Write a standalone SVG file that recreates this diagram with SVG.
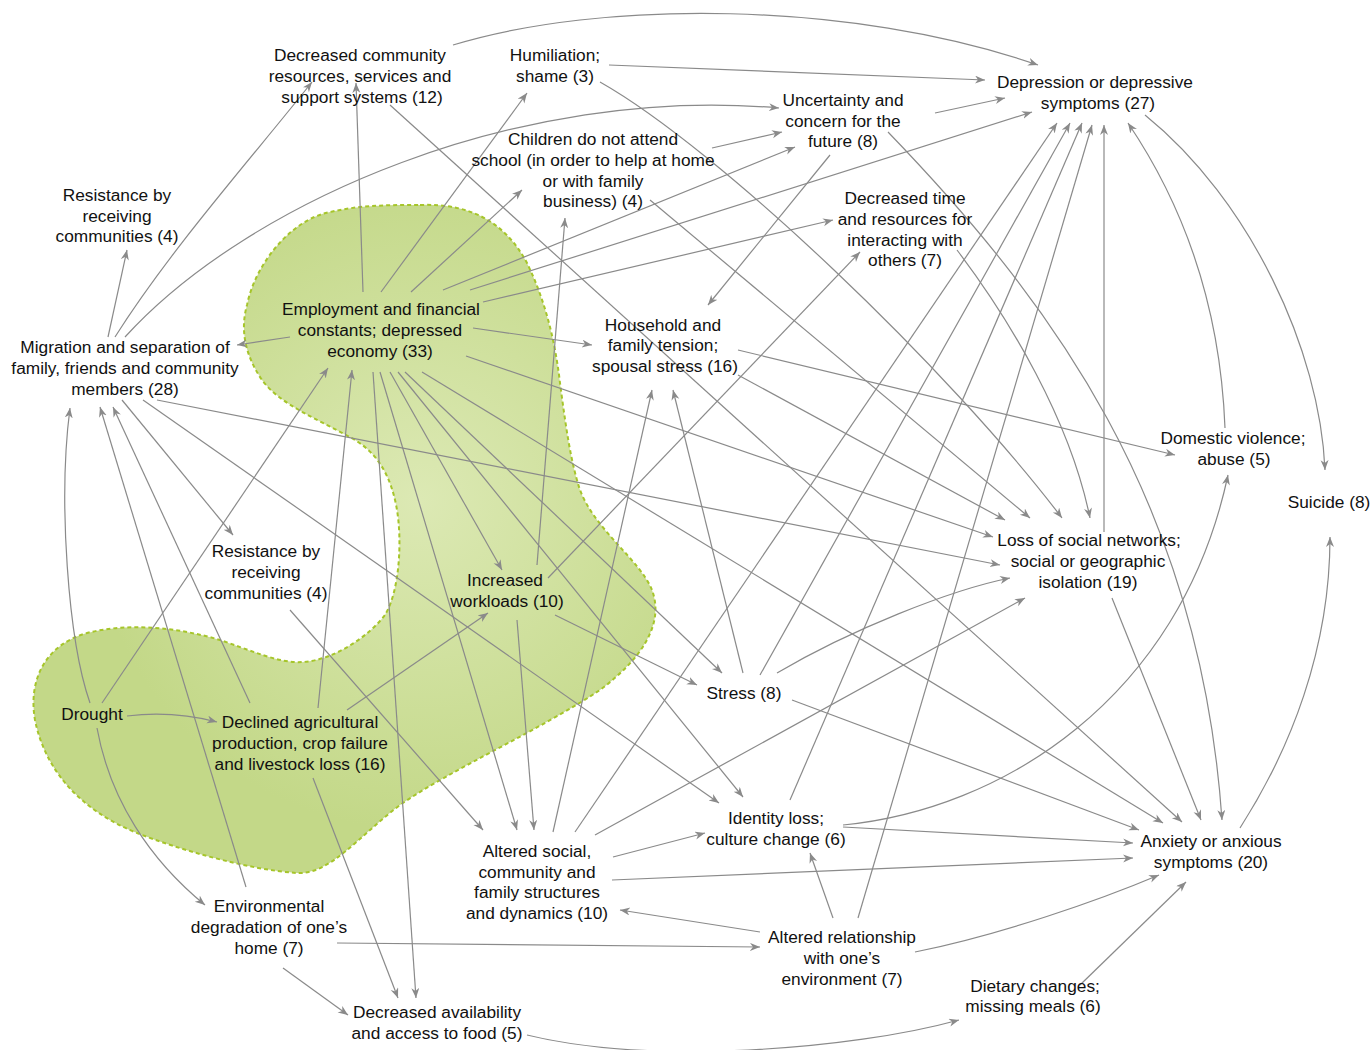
<svg xmlns="http://www.w3.org/2000/svg" width="1372" height="1050" viewBox="0 0 1372 1050">
<style>
text{font-family:"Liberation Sans",Arial,Helvetica,sans-serif;font-size:17.3px;fill:#111;text-anchor:middle}
.e path{fill:none;stroke:#8a8a8a;stroke-width:1.2;marker-end:url(#ah)}
</style>
<defs>
<marker id="ah" markerUnits="userSpaceOnUse" markerWidth="12" markerHeight="10" refX="10" refY="4" orient="auto"><path d="M0,0 L10,4 L0,8 L3,4 Z" fill="#8a8a8a"/></marker>
<radialGradient id="bg" gradientUnits="userSpaceOnUse" cx="420" cy="500" r="330"><stop offset="0" stop-color="#dce9b4"/><stop offset="1" stop-color="#c3d888"/></radialGradient>
</defs>
<rect width="1372" height="1050" fill="#fff"/>
<path id="blob" d="M420,205 C470,203 505,222 527,263 C545,300 555,340 560,383 C565,420 570,460 580,490 C595,530 640,560 652,590 C665,625 640,660 600,690 C540,730 450,770 400,805 C360,835 330,875 297,873 C250,870 180,850 137,833 C80,810 45,770 35,720 C28,680 45,645 87,633 C130,622 180,628 220,640 C250,650 280,664 303,662 C335,660 370,635 385,615 C400,590 402,540 397,510 C392,480 380,455 355,440 C320,420 280,405 262,380 C245,355 240,330 247,305 C255,265 290,220 330,212 C360,205 390,205 420,205 Z" fill="url(#bg)" stroke="#a6c52a" stroke-width="2" stroke-dasharray="4,3"/>
<g id="connectors" class="e">
<path d="M363,292 L356,83"/>
<path d="M381,292 L527,93"/>
<path d="M411,292 L522,190"/>
<path d="M443,290 L795,147"/>
<path d="M470,290 L1032,112"/>
<path d="M483,302 L833,220"/>
<path d="M473,328 L592,345"/>
<path d="M290,337 L237,345"/>
<path d="M466,356 L993,537"/>
<path d="M373,372 L416,998"/>
<path d="M380,372 L517,830"/>
<path d="M390,372 L502,570"/>
<path d="M398,372 L743,797"/>
<path d="M405,372 L722,673"/>
<path d="M422,372 L1163,823"/>
<path d="M108,337 L127,250"/>
<path d="M115,337 C170,250 250,160 312,82"/>
<path d="M125,337 C250,200 520,85 779,108"/>
<path d="M122,400 L233,535"/>
<path d="M143,400 L719,803"/>
<path d="M157,400 L1000,565"/>
<path d="M90,703 C68,640 58,500 70,408"/>
<path d="M102,703 L328,368"/>
<path d="M127,716 C160,712 190,715 217,722"/>
<path d="M97,728 C110,800 150,860 205,905"/>
<path d="M250,703 L113,407"/>
<path d="M318,708 L352,370"/>
<path d="M347,710 L488,613"/>
<path d="M313,778 L398,998"/>
<path d="M246,887 L100,407"/>
<path d="M283,968 L348,1015"/>
<path d="M337,943 L760,947"/>
<path d="M290,610 L483,830"/>
<path d="M537,565 L565,218"/>
<path d="M548,578 L860,252"/>
<path d="M555,615 L697,685"/>
<path d="M517,620 L534,830"/>
<path d="M553,832 L652,390"/>
<path d="M575,832 L1057,123"/>
<path d="M595,835 L1025,598"/>
<path d="M613,857 L705,833"/>
<path d="M612,880 L1133,858"/>
<path d="M760,932 L620,910"/>
<path d="M833,918 L810,853"/>
<path d="M858,918 L1092,125"/>
<path d="M915,952 C1000,935 1100,900 1159,875"/>
<path d="M790,800 L1082,123"/>
<path d="M843,825 C1000,810 1180,700 1228,475"/>
<path d="M843,827 L1133,843"/>
<path d="M743,673 L673,390"/>
<path d="M760,675 L1070,123"/>
<path d="M777,673 C850,630 950,590 1010,578"/>
<path d="M792,700 L1139,830"/>
<path d="M738,350 L1175,455"/>
<path d="M738,375 L1005,520"/>
<path d="M830,155 L708,305"/>
<path d="M935,113 L1005,98"/>
<path d="M888,132 C1050,300 1200,500 1222,820"/>
<path d="M712,148 L782,132"/>
<path d="M650,200 L1030,518"/>
<path d="M609,65 L985,80"/>
<path d="M600,82 C720,150 950,370 1062,518"/>
<path d="M453,45 C600,0 850,0 1038,65"/>
<path d="M390,105 L1182,822"/>
<path d="M957,250 C1010,320 1070,420 1090,518"/>
<path d="M1104,532 L1104,125"/>
<path d="M1112,598 L1201,820"/>
<path d="M1225,428 C1220,300 1180,200 1128,123"/>
<path d="M1145,115 C1250,200 1320,350 1325,470"/>
<path d="M1240,828 C1290,750 1330,650 1330,537"/>
<path d="M1080,985 L1186,882"/>
<path d="M527,1035 C650,1065 850,1050 959,1020"/>
</g>
<g id="n-deccomm"><text x="360" y="61">Decreased community</text><text x="360" y="82">resources, services and</text><text x="362" y="103">support systems (12)</text></g>
<g id="n-humil"><text x="555" y="61">Humiliation;</text><text x="555" y="82">shame (3)</text></g>
<g id="n-depr"><text x="1095" y="88">Depression or depressive</text><text x="1098" y="109">symptoms (27)</text></g>
<g id="n-uncert"><text x="843" y="106">Uncertainty and</text><text x="843" y="127">concern for the</text><text x="843" y="147">future (8)</text></g>
<g id="n-children"><text x="593" y="145">Children do not attend</text><text x="593" y="166">school (in order to help at home</text><text x="593" y="187">or with family</text><text x="593" y="207">business) (4)</text></g>
<g id="n-dectime"><text x="905" y="204">Decreased time</text><text x="905" y="225">and resources for</text><text x="905" y="246">interacting with</text><text x="905" y="266">others (7)</text></g>
<g id="n-restop"><text x="117" y="201">Resistance by</text><text x="117" y="222">receiving</text><text x="117" y="242">communities (4)</text></g>
<g id="n-employ"><text x="381" y="315">Employment and financial</text><text x="380" y="336">constants; depressed</text><text x="380" y="357">economy (33)</text></g>
<g id="n-household"><text x="663" y="331">Household and</text><text x="663" y="351">family tension;</text><text x="665" y="372">spousal stress (16)</text></g>
<g id="n-migration"><text x="125" y="353">Migration and separation of</text><text x="125" y="374">family, friends and community</text><text x="125" y="395">members (28)</text></g>
<g id="n-domestic"><text x="1233" y="444">Domestic violence;</text><text x="1234" y="465">abuse (5)</text></g>
<g id="n-suicide"><text x="1329" y="508">Suicide (8)</text></g>
<g id="n-loss"><text x="1089" y="546">Loss of social networks;</text><text x="1088" y="567">social or geographic</text><text x="1088" y="588">isolation (19)</text></g>
<g id="n-resmid"><text x="266" y="557">Resistance by</text><text x="266" y="578">receiving</text><text x="266" y="599">communities (4)</text></g>
<g id="n-workloads"><text x="505" y="586">Increased</text><text x="507" y="607">workloads (10)</text></g>
<g id="n-stress"><text x="744" y="699">Stress (8)</text></g>
<g id="n-drought"><text x="92" y="720">Drought</text></g>
<g id="n-declined"><text x="300" y="728">Declined agricultural</text><text x="300" y="749">production, crop failure</text><text x="300" y="770">and livestock loss (16)</text></g>
<g id="n-identity"><text x="776" y="824">Identity loss;</text><text x="776" y="845">culture change (6)</text></g>
<g id="n-anxiety"><text x="1211" y="847">Anxiety or anxious</text><text x="1211" y="868">symptoms (20)</text></g>
<g id="n-altsoc"><text x="537" y="857">Altered social,</text><text x="537" y="878">community and</text><text x="537" y="898">family structures</text><text x="537" y="919">and dynamics (10)</text></g>
<g id="n-env"><text x="269" y="912">Environmental</text><text x="269" y="933">degradation of one’s</text><text x="269" y="954">home (7)</text></g>
<g id="n-altrel"><text x="842" y="943">Altered relationship</text><text x="842" y="964">with one’s</text><text x="842" y="985">environment (7)</text></g>
<g id="n-dietary"><text x="1035" y="992">Dietary changes;</text><text x="1033" y="1012">missing meals (6)</text></g>
<g id="n-decavail"><text x="437" y="1018">Decreased availability</text><text x="437" y="1039">and access to food (5)</text></g>
</svg>
